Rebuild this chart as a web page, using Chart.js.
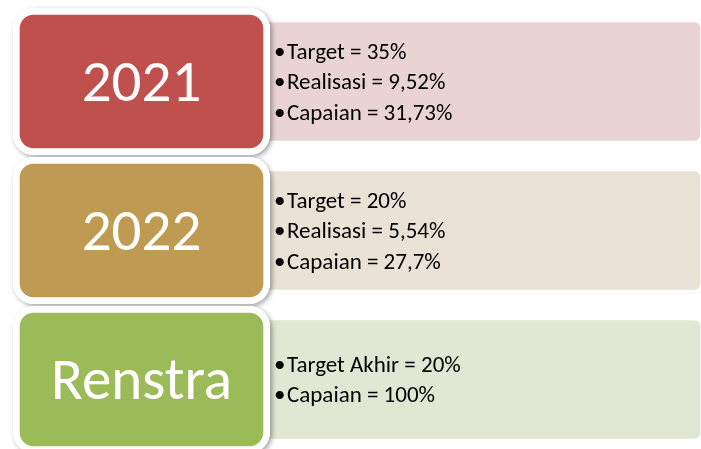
<!DOCTYPE html>
<html>
<head>
<meta charset="utf-8">
<script src="https://cdn.jsdelivr.net/npm/chart.js@4/dist/chart.umd.min.js"></script>
<style>
  html, body { margin: 0; padding: 0; background: #ffffff; overflow: hidden; width: 701px; height: 449px; }
  #wrap { width: 701px; height: 456px; }
  canvas { display: block; }
</style>
</head>
<body>
<div id="wrap"><canvas id="c" width="701" height="456"></canvas></div>
<script>
// ---- data ----
const categories = ['2021', '2022', 'Renstra'];
const targetLabels = ['Target', 'Target', 'Target Akhir'];
const targetValues = ['35%', '20%', '20%'];
const realisasiValues = ['9,52%', '5,54%', null];
const capaianValues = ['31,73%', '27,7%', '100%'];

// ---- styles / layout (not data) ----
const headerColors = ['#C0504D', '#BE9A52', '#9BBB59'];
const panelColors = ['#E9D4D3', '#E9E3D5', '#E0E8D4'];
const LAYOUT = { xMax: 701, headerSpan: [13, 270], panelSpan: [250, 700] };
const FONT = 'Carlito, Calibri, Lato, sans-serif';

const detailLines = categories.map((c, i) => {
  const lines = [targetLabels[i] + ' = ' + targetValues[i]];
  if (realisasiValues[i] !== null) lines.push('Realisasi = ' + realisasiValues[i]);
  lines.push('Capaian = ' + capaianValues[i]);
  return lines;
});

function roundRect(ctx, x, y, w, h, r) {
  ctx.beginPath();
  ctx.moveTo(x + r, y);
  ctx.lineTo(x + w - r, y);
  ctx.arcTo(x + w, y, x + w, y + r, r);
  ctx.lineTo(x + w, y + h - r);
  ctx.arcTo(x + w, y + h, x + w - r, y + h, r);
  ctx.lineTo(x + r, y + h);
  ctx.arcTo(x, y + h, x, y + h - r, r);
  ctx.lineTo(x, y + r);
  ctx.arcTo(x, y, x + r, y, r);
  ctx.closePath();
}

const shadowPlugin = {
  id: 'headerShadow',
  beforeDatasetDraw(chart, args) {
    if (args.index !== 0) return;
    const ctx = chart.ctx;
    const meta = chart.getDatasetMeta(0);
    ctx.save();
    meta.data.forEach(el => {
      const p = el.getProps(['x', 'y', 'base', 'height'], true);
      const left = Math.min(p.x, p.base), w = Math.abs(p.x - p.base);
      ctx.shadowColor = 'rgba(0,0,0,0.38)';
      ctx.shadowBlur = 5;
      ctx.shadowOffsetX = 2;
      ctx.shadowOffsetY = 2;
      ctx.fillStyle = '#ffffff';
      roundRect(ctx, left, p.y - p.height / 2, w, p.height, 21);
      ctx.fill();
    });
    ctx.restore();
  }
};

const textPlugin = {
  id: 'boxText',
  afterDatasetsDraw(chart) {
    const ctx = chart.ctx;
    const headMeta = chart.getDatasetMeta(0);
    const panelMeta = chart.getDatasetMeta(1);
    ctx.save();
    headMeta.data.forEach((el, i) => {
      const p = el.getProps(['x', 'y', 'base'], true);
      const cx = (p.x + p.base) / 2;
      ctx.fillStyle = '#ffffff';
      ctx.textAlign = 'center';
      ctx.textBaseline = 'alphabetic';
      ctx.font = '59px ' + FONT;
      ctx.fillText(categories[i], cx, p.y + 19);
    });
    panelMeta.data.forEach((el, i) => {
      const p = el.getProps(['x', 'y', 'base'], true);
      const lines = detailLines[i];
      const gap = 30.5;
      const first = p.y - gap * (lines.length - 1) / 2 + 7.5;
      const hp = headMeta.data[i].getProps(['x'], true);
      const tx = hp.x + 4;
      ctx.fillStyle = '#000000';
      ctx.textAlign = 'left';
      ctx.textBaseline = 'alphabetic';
      ctx.font = '23px ' + FONT;
      lines.forEach((ln, k) => {
        const y = first + k * gap;
        ctx.fillText('\u2022', tx, y);
        ctx.fillText(ln, tx + 13, y);
      });
    });
    ctx.restore();
  }
};

new Chart(document.getElementById('c'), {
  type: 'bar',
  data: {
    labels: categories,
    datasets: [
      {
        label: 'Tahun',
        data: categories.map(() => LAYOUT.headerSpan),
        backgroundColor: headerColors,
        borderColor: '#ffffff',
        borderWidth: 7,
        borderRadius: 21,
        borderSkipped: false,
        barThickness: 147,
        grouped: false,
        order: 0
      },
      {
        label: 'Rincian',
        data: categories.map(() => LAYOUT.panelSpan),
        backgroundColor: panelColors,
        borderWidth: 0,
        borderRadius: 6,
        borderSkipped: false,
        barThickness: 118,
        grouped: false,
        order: 1
      }
    ]
  },
  options: {
    indexAxis: 'y',
    responsive: false,
    devicePixelRatio: 1,
    animation: false,
    layout: { padding: { top: 7, bottom: 2, left: 0, right: 0 } },
    scales: {
      x: { type: 'linear', min: 0, max: LAYOUT.xMax, display: false },
      y: { type: 'category', display: false, offset: true }
    },
    plugins: { legend: { display: false }, tooltip: { enabled: false } },
    events: []
  },
  plugins: [shadowPlugin, textPlugin]
});
</script>
</body>
</html>
